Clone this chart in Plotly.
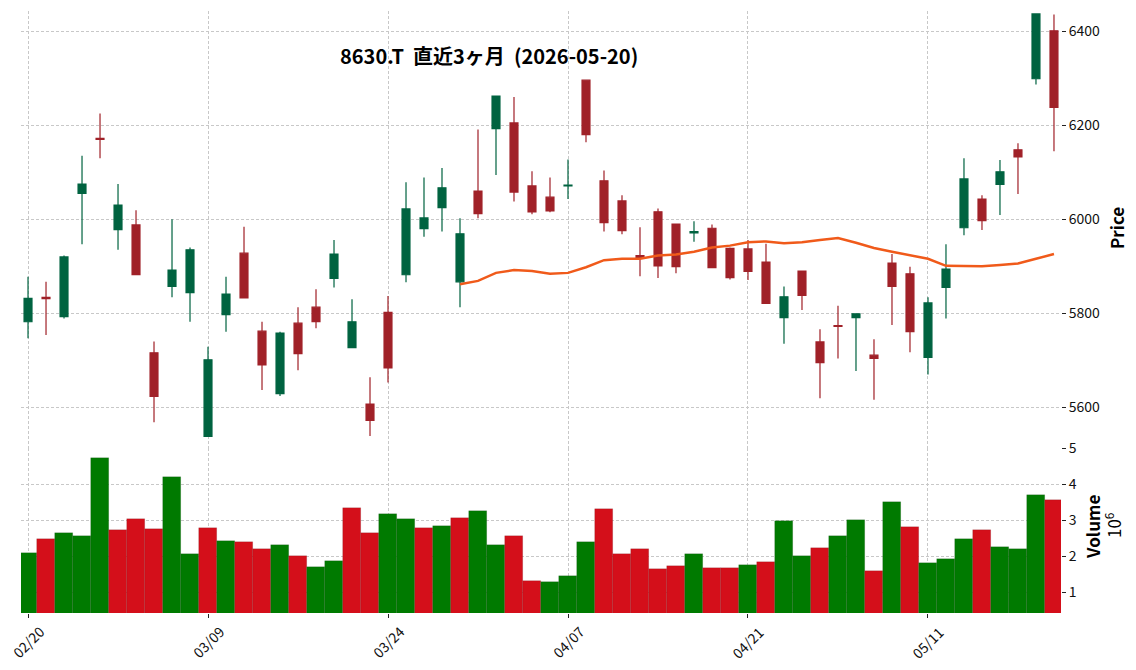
import plotly.graph_objects as go

# ---------------- data ----------------
dates = ["2026-02-20", "2026-02-24", "2026-02-25", "2026-02-26", "2026-02-27",
         "2026-03-02", "2026-03-03", "2026-03-04", "2026-03-05", "2026-03-06",
         "2026-03-09", "2026-03-10", "2026-03-11", "2026-03-12", "2026-03-13",
         "2026-03-16", "2026-03-17", "2026-03-18", "2026-03-19", "2026-03-23",
         "2026-03-24", "2026-03-25", "2026-03-26", "2026-03-27", "2026-03-30",
         "2026-03-31", "2026-04-01", "2026-04-02", "2026-04-03", "2026-04-06",
         "2026-04-07", "2026-04-08", "2026-04-09", "2026-04-10", "2026-04-13",
         "2026-04-14", "2026-04-15", "2026-04-16", "2026-04-17", "2026-04-20",
         "2026-04-21", "2026-04-22", "2026-04-23", "2026-04-24", "2026-04-27",
         "2026-04-28", "2026-04-30", "2026-05-01", "2026-05-07", "2026-05-08",
         "2026-05-11", "2026-05-12", "2026-05-13", "2026-05-14", "2026-05-15",
         "2026-05-18", "2026-05-19", "2026-05-20"]

opens = [5782, 5834, 5793, 6055, 6172, 5978, 5988, 5716, 5857, 5844,
         5538, 5797, 5928, 5762, 5629, 5779, 5813, 5874, 5727, 5607,
         5802, 5882, 5980, 6025, 5867, 6060, 6193, 6205, 6071, 6047,
         6071, 6296, 6082, 6039, 5923, 6016, 5990, 5971, 5981, 5938,
         5937, 5909, 5791, 5890, 5739, 5774, 5791, 5711, 5907, 5884,
         5706, 5855, 5982, 6043, 6074, 6148, 6299, 6401]
highs = [5878, 5867, 5923, 6135, 6225, 6075, 6019, 5740, 6000, 5940,
         5729, 5878, 5984, 5782, 5761, 5813, 5851, 5956, 5830, 5664,
         5837, 6079, 6089, 6109, 6002, 6191, 6262, 6260, 6102, 6089,
         6127, 6297, 6104, 6051, 5983, 6023, 5991, 5996, 5989, 5940,
         5956, 5948, 5857, 5891, 5766, 5816, 5800, 5745, 5926, 5899,
         5834, 5947, 6130, 6051, 6126, 6162, 6437, 6436]
lows = [5747, 5754, 5789, 5947, 6130, 5935, 5881, 5568, 5834, 5782,
        5537, 5761, 5833, 5637, 5624, 5679, 5768, 5855, 5727, 5539,
        5653, 5866, 5963, 5974, 5813, 6002, 6094, 6038, 6011, 6015,
        6043, 6164, 5974, 5968, 5879, 5875, 5885, 5952, 5897, 5872,
        5871, 5820, 5735, 5807, 5619, 5704, 5677, 5616, 5775, 5717,
        5670, 5789, 5966, 5977, 6009, 6054, 6287, 6145]
closes = [5832, 5831, 5920, 6075, 6170, 6030, 5882, 5623, 5892, 5935,
          5701, 5841, 5833, 5690, 5758, 5714, 5782, 5926, 5782, 5572,
          5684, 6022, 6003, 6067, 5969, 6012, 6262, 6058, 6016, 6018,
          6073, 6180, 5993, 5976, 5919, 5901, 5899, 5974, 5897, 5876,
          5889, 5821, 5835, 5838, 5695, 5772, 5799, 5704, 5857, 5761,
          5822, 5894, 6086, 5997, 6101, 6133, 6437, 6238]
volumes = [2093000, 2481000, 2648000, 2565000, 4731000, 2731000, 3037000, 2759000, 4204000, 2065000,
           2787000, 2426000, 2398000, 2204000, 2315000, 2009000, 1704000, 1870000, 3343000, 2648000,
           3176000, 3037000, 2787000, 2843000, 3065000, 3259000, 2315000, 2565000, 1315000, 1287000,
           1454000, 2398000, 3315000, 2065000, 2204000, 1648000, 1731000, 2065000, 1676000, 1676000,
           1759000, 1843000, 2991000, 2009000, 2231000, 2565000, 3009000, 1593000, 3509000, 2815000,
           1815000, 1926000, 2481000, 2731000, 2259000, 2204000, 3704000, 3565000]
ma25 = [None] * 24 + [5862, 5869, 5886, 5892, 5890, 5884, 5886, 5898, 5913, 5916,
                      5916, 5923, 5925, 5931, 5940, 5944, 5951, 5953, 5949, 5951,
                      5956, 5960, 5950, 5939, 5931, 5923, 5916, 5901, 5901, 5900,
                      5903, 5906, 5916, 5926]

tick_dates = ["02/20", "03/09", "03/24", "04/07", "04/21", "05/11"]
price_ticks = [5600, 5800, 6000, 6200, 6400]
vol_ticks = [1, 2, 3, 4, 5]
title_text = "8630.T  直近3ヶ月  (2026-05-20)"

# ---------------- style ----------------
FONT = "Noto Sans CJK JP"
UP_C, DN_C = "#006340", "#a02128"
VUP_C, VDN_C = "#007a00", "#d40f1a"
MA_C = "#f05a1a"
GRID_C = "#c8c8c8"

W, H = 1136, 670
ML, MR, MT, MB = 21, 75, 11, 57
plot_h = H - MT - MB
plot_w = W - ML - MR
split = 165 / plot_h

idx = list(range(len(dates)))
mmdd = [d[5:].replace("-", "/") for d in dates]
tick_pos = [mmdd.index(t) for t in tick_dates]

vol_colors = [VUP_C if (i == 0 or closes[i] > closes[i - 1]) else VDN_C for i in idx]

fig = go.Figure()

fig.add_trace(go.Candlestick(
    x=idx, open=opens, high=highs, low=lows, close=closes,
    increasing=dict(line=dict(color=UP_C, width=1.2), fillcolor=UP_C),
    decreasing=dict(line=dict(color=DN_C, width=1.2), fillcolor=DN_C),
    whiskerwidth=0, xaxis="x2", yaxis="y", showlegend=False,
))
fig.add_trace(go.Scatter(
    x=idx, y=ma25, mode="lines", line=dict(color=MA_C, width=2.5),
    xaxis="x2", yaxis="y", showlegend=False, connectgaps=False,
))
fig.add_trace(go.Bar(
    x=idx, y=volumes, marker=dict(color=vol_colors, line=dict(width=0.6, color="rgba(0,0,0,0.18)")),
    width=1.0, xaxis="x", yaxis="y2", showlegend=False,
))

xr = [-0.39, 57.39]
grid = dict(showgrid=True, gridcolor=GRID_C, gridwidth=0.8, griddash="3px,2px",
            zeroline=False, showline=False, automargin=False)

fig.update_layout(
    width=W, height=H,
    margin=dict(l=ML, r=MR, t=MT, b=MB, autoexpand=False),
    paper_bgcolor="white", plot_bgcolor="white",
    font=dict(family=FONT, size=14, color="#111111"),
    bargap=0, boxgap=0.37,
    xaxis=dict(domain=[0, 1], anchor="y2", range=xr, tickmode="array", tickvals=tick_pos,
               ticktext=tick_dates, showticklabels=False, ticks="outside", ticklen=4,
               tickcolor="#222", rangeslider=dict(visible=False), **grid),
    xaxis2=dict(domain=[0, 1], anchor="y", range=xr, matches="x", tickmode="array",
                tickvals=tick_pos, showticklabels=False, ticks="",
                rangeslider=dict(visible=False), **grid),
    yaxis=dict(domain=[split, 1], anchor="x2", side="right", range=[5513.4, 6443.2],
               tickmode="array", tickvals=price_ticks, ticks="outside", ticklen=4,
               tickcolor="#222", tickfont=dict(size=14), **grid),
    yaxis2=dict(domain=[0, split], anchor="x", side="right", range=[433000, 5000000],
                tickmode="array", tickvals=[v * 1000000 for v in vol_ticks],
                ticktext=[str(v) for v in vol_ticks], ticks="outside", ticklen=4,
                tickcolor="#222", tickfont=dict(size=14), **grid),
)


def px_x(px):
    return (px - ML) / plot_w


def px_y(py):
    return (H - MB - py) / plot_h


ann = []
for p, t in zip(tick_pos, tick_dates):
    ann.append(dict(x=p, xref="x", y=px_y(642), yref="paper", text=t, showarrow=False,
                    textangle=-45, xanchor="center", yanchor="middle",
                    font=dict(size=14, family=FONT, color="#111")))
ann.append(dict(x=px_x(489), xref="paper", y=px_y(55), yref="paper",
                text="<b>" + title_text + "</b>", showarrow=False, xanchor="center", yanchor="middle",
                font=dict(size=20, family=FONT, color="#000")))
ann.append(dict(x=px_x(1117), xref="paper", y=px_y(228), yref="paper",
                text="<b>Price</b>", showarrow=False, textangle=-90, xanchor="center", yanchor="middle",
                font=dict(size=17, family=FONT, color="#000")))
ann.append(dict(x=px_x(1092), xref="paper", y=px_y(527), yref="paper",
                text="<b>Volume</b>", showarrow=False, textangle=-90, xanchor="center", yanchor="middle",
                font=dict(size=17, family=FONT, color="#000")))
ann.append(dict(x=px_x(1113), xref="paper", y=px_y(525), yref="paper",
                text="10<sup>6</sup>", showarrow=False, textangle=-90, xanchor="center", yanchor="middle",
                font=dict(size=17, family=FONT, color="#000")))
fig.update_layout(annotations=ann)

fig.write_html("out.html")
